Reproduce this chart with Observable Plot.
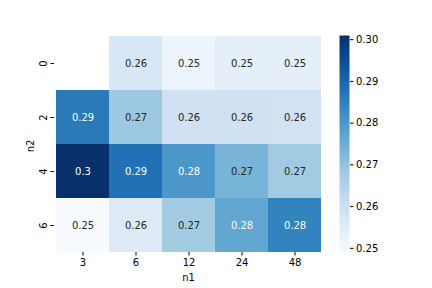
<!DOCTYPE html>
<html><head><meta charset="utf-8">
<script src="https://cdn.jsdelivr.net/npm/d3@7"></script>
<script src="https://cdn.jsdelivr.net/npm/@observablehq/plot@0.6"></script>
<style>
body{margin:0;background:#fff}
#wrap{position:relative;width:432px;height:288px;overflow:hidden}
#wrap>svg{position:absolute;top:0}
</style>
</head><body><div id="wrap"></div>
<script>
const n1 = ["3", "6", "12", "24", "48"];
const n2 = ["0", "2", "4", "6"];
const row0 = [null, 0.2573, 0.2516, 0.2537, 0.2542];
const row2 = [0.2864, 0.2685, 0.2594, 0.2594, 0.2590];
const row4 = [0.3010, 0.2880, 0.2802, 0.2734, 0.2677];
const row6 = [0.2490, 0.2555, 0.2675, 0.2766, 0.2845];
const rows = [row0, row2, row4, row6];
const cbTicks = [0.25, 0.26, 0.27, 0.28, 0.29, 0.30];

const data = [];
rows.forEach((r, i) => r.forEach((v, j) => { if (v != null) data.push({n1: n1[j], n2: n2[i], v}); }));
const ext = d3.extent(data, d => d.v);
const cscale = d3.scaleSequential(d3.interpolateBlues).domain(ext);
function lum(c) {
  const {r, g, b} = d3.rgb(c);
  const f = x => { x /= 255; return x <= 0.03928 ? x / 12.92 : Math.pow((x + 0.055) / 1.055, 2.4); };
  return 0.2126 * f(r) + 0.7152 * f(g) + 0.0722 * f(b);
}
const fmt = d3.format(".2~g");
const font = {fontFamily: "DejaVu Sans", fontSize: "10px", background: "transparent", color: "#000"};

const main = Plot.plot({
  width: 432, height: 288,
  marginLeft: 54, marginRight: 110, marginTop: 35, marginBottom: 36,
  style: font,
  x: {domain: n1, padding: 0, label: null},
  y: {domain: n2, padding: 0, label: null},
  color: {type: "linear", scheme: "blues", domain: ext},
  marks: [
    Plot.cell(data, {x: "n1", y: "n2", fill: "v"}),
    Plot.text(data, {x: "n1", y: "n2", text: d => fmt(d.v), fontSize: 10,
      fill: d => lum(cscale(d.v)) > 0.408 ? "#262626" : "#ffffff"}),
    Plot.axisX({tickSize: 3.5, tickPadding: 3, label: null, fontSize: 10}),
    Plot.axisY({tickSize: 3.5, tickPadding: 4, tickRotate: -90, label: null, fontSize: 10}),
    Plot.text(["n1"], {frameAnchor: "bottom", dy: 25, lineAnchor: "middle", textAnchor: "middle", fontSize: 10}),
    Plot.text(["n2"], {frameAnchor: "left", dx: -24, dy: 2, rotate: -90, lineAnchor: "middle", textAnchor: "middle", fontSize: 10})
  ]
});
document.getElementById("wrap").appendChild(main);
main.style.left = "0px";

const cb = Plot.plot({
  width: 93, height: 288,
  marginLeft: 0, marginRight: 83, marginTop: 35, marginBottom: 36,
  style: font,
  x: {domain: [0, 1], axis: null},
  y: {domain: ext, label: null},
  color: {type: "linear", scheme: "blues", domain: ext},
  marks: [
    Plot.raster({x1: 0, x2: 1, y1: ext[0], y2: ext[1], fill: (x, y) => y}),
    Plot.axisY({anchor: "right", ticks: cbTicks, tickFormat: ".2f", tickSize: 3.5, tickPadding: 3, label: null, fontSize: 10})
  ]
});
document.getElementById("wrap").appendChild(cb);
cb.style.left = "339px";
</script>
</body></html>
